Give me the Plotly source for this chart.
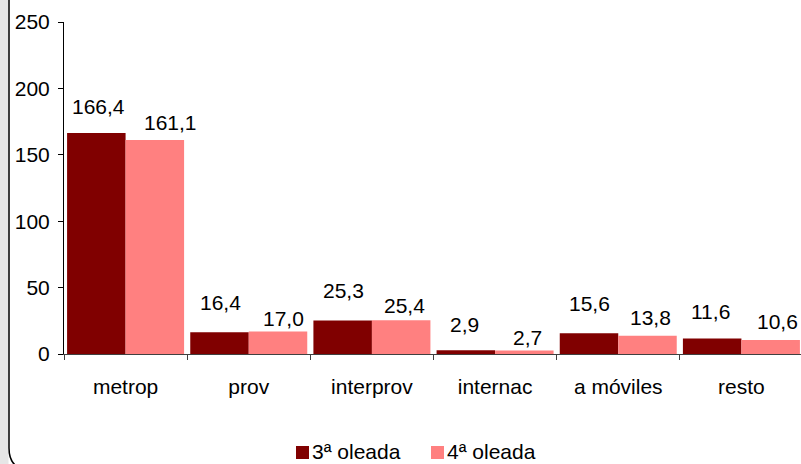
import plotly.graph_objects as go

categories = ["metrop", "prov", "interprov", "internac", "a móviles", "resto"]
serie_3 = [166.4, 16.4, 25.3, 2.9, 15.6, 11.6]
serie_4 = [161.1, 17.0, 25.4, 2.7, 13.8, 10.6]
series_names = ["3ª oleada", "4ª oleada"]
series_colors = ["#800000", "#FF8080"]
y_ticks = [0, 50, 100, 150, 200, 250]

# label pixel offsets (styling, relative to bar centre / top)
label_dx = [[3, 1, 1, -1, 1, -1], [15, 5, 3, 3, 2, 6]]
label_dy = [[27, 30, 30, 26, 30, 27], [18, 13, 15, 13, 18, 18]]

W, H = 801, 464
L, R, T, B = 64, 0, 22, 110
PW, PH = W - L - R, H - T - B
CAT_W = 123.2
BAR_HALF = 29.75

def px(x):
    return (x - L) / PW

def py(y):
    return (H - B - y) / PH

def fmt(v):
    return f"{v:.1f}".replace(".", ",")

FONT = "Liberation Sans, Arial, sans-serif"
FS = 21

fig = go.Figure()
for s, (vals, name, col) in enumerate(zip([serie_3, serie_4], series_names, series_colors)):
    fig.add_trace(go.Bar(x=categories, y=vals, name=name,
                         marker=dict(color=col, line=dict(width=0))))

annotations = []
for s, vals in enumerate([serie_3, serie_4]):
    sign = -1 if s == 0 else 1
    for i, (c, v) in enumerate(zip(categories, vals)):
        annotations.append(dict(x=c, y=v, xref="x", yref="y", text=fmt(v), showarrow=False,
                                xanchor="center", yanchor="middle",
                                xshift=sign * BAR_HALF + label_dx[s][i], yshift=label_dy[s][i],
                                font=dict(size=FS, color="black", family=FONT)))

# manual legend
legend_shapes = []
leg_sq = [(296, 309), (431, 444)]
leg_y = 451.5
for (x0, x1), name, col in zip(leg_sq, series_names, series_colors):
    legend_shapes.append(dict(type="rect", xref="paper", yref="paper",
                              x0=px(x0), x1=px(x1), y0=py(leg_y + 7.5), y1=py(leg_y - 5.5),
                              fillcolor=col, line=dict(width=0)))
    annotations.append(dict(x=px(x1 + 2), y=py(leg_y), xref="paper", yref="paper", text=name,
                            showarrow=False, xanchor="left", yanchor="middle", borderpad=0,
                            font=dict(size=FS, color="black", family=FONT)))

fig.update_layout(
    width=W, height=H,
    margin=dict(l=L, r=R, t=T, b=B, pad=0),
    paper_bgcolor="white", plot_bgcolor="white",
    font=dict(family=FONT, size=FS, color="black"),
    barmode="group", bargap=0.05, bargroupgap=0,
    showlegend=False,
    xaxis=dict(range=[-0.5, 5.5 - 2 / CAT_W], showline=True, linecolor="#404040", linewidth=1,
               ticks="outside", tickson="boundaries", ticklen=5, tickcolor="#404040",
               showgrid=False, tickfont=dict(size=FS), ticklabelstandoff=14, automargin=False),
    yaxis=dict(range=[0, 250], tickvals=y_ticks, showline=True, linecolor="black", linewidth=1,
               ticks="outside", ticklen=5, tickcolor="black", showgrid=False, zeroline=False,
               tickfont=dict(size=FS), ticklabelstandoff=4, automargin=False),
    annotations=annotations,
    shapes=[
        dict(type="rect", xref="paper", yref="paper", x0=px(-5), x1=px(8.5), y0=py(-10), y1=py(470),
             fillcolor="#e6e6e6", line=dict(width=0), layer="below"),
        dict(type="path", xref="paper", yref="paper",
             path=f"M {px(9)},{py(-10)} L {px(9)},{py(448)} Q {px(9)},{py(470)} {px(31)},{py(470)} L {px(900)},{py(470)}",
             line=dict(color="black", width=1.5)),
    ] + legend_shapes,
)

fig.write_html("out.html", config={"displayModeBar": False},
               post_script="document.body.style.margin='0';document.body.style.padding='0';")
